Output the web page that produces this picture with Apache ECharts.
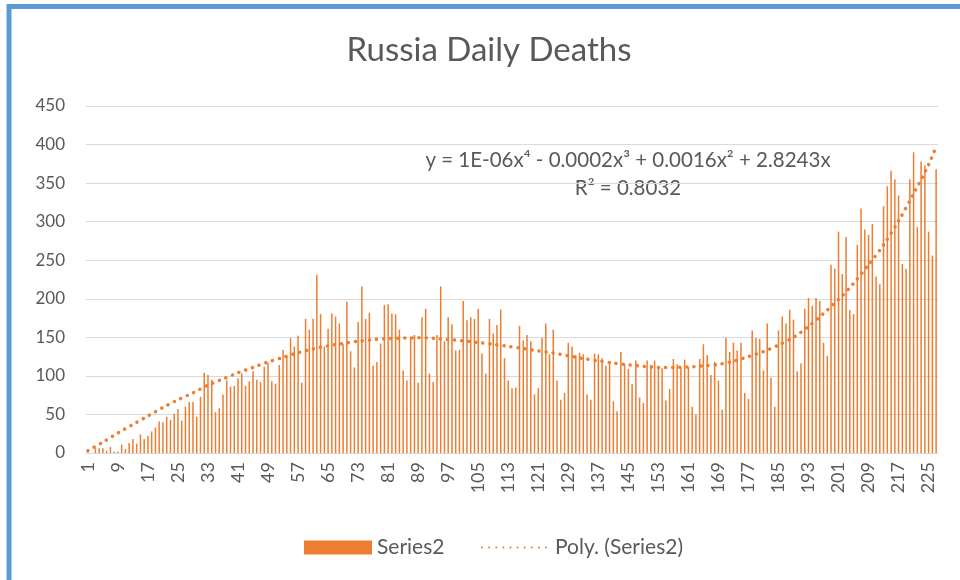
<!DOCTYPE html>
<html>
<head>
<meta charset="utf-8">
<script src="https://cdn.jsdelivr.net/npm/echarts@6/dist/echarts.min.js"></script>
<style>
  html, body { margin: 0; padding: 0; background: #fff; }
  #chart { width: 960px; height: 580px; }
</style>
</head>
<body>
<div id="chart"></div>
<script>
// daily deaths, day 1..227
const deaths = [
  1, 0, 6, 6, 6, 3, 8, 2, 2, 11, 5, 13, 18, 12, 24, 18, 22, 28, 33, 41,
  40, 47, 43, 51, 57, 42, 60, 66, 66, 47, 73, 104, 101, 95, 53, 58, 76, 94, 86,
  87, 97, 103, 87, 93, 106, 95, 92, 112, 117, 93, 90, 114, 134, 126, 149, 138, 152, 91, 174,
  160, 174, 231, 180, 138, 161, 181, 177, 168, 141, 196, 132, 111, 170, 216, 174, 182, 113,
  118, 142, 192, 193, 181, 180, 160, 107, 94, 151, 153, 91, 176, 187, 103, 92, 153, 216, 145,
  176, 167, 133, 134, 197, 172, 176, 174, 187, 129, 103, 174, 155, 166, 186, 123, 94, 84, 85, 165,
  146, 153, 145, 76, 84, 149, 168, 128, 160, 94, 69, 78, 143, 138, 127, 130, 128, 76, 69,
  129, 128, 123, 113, 118, 67, 54, 131, 115, 109, 89, 120, 72, 65, 120, 114, 120, 109, 110,
  68, 83, 122, 115, 111, 121, 111, 60, 50, 122, 141, 127, 101, 118, 94, 56, 149, 131, 143, 133,
  143, 78, 70, 159, 149, 148, 107, 168, 98, 60, 159, 177, 168, 186, 173, 106, 116, 187, 201,
  191, 201, 197, 143, 126, 244, 239, 287, 232, 280, 185, 180, 270, 317, 290, 283, 297, 229, 219,
  320, 346, 366, 355, 334, 245, 239, 355, 390, 293, 378, 373, 287, 256, 368
];
const days = deaths.map((d, i) => String(i + 1));

// trendline (day, value)
const trendDays = [1, 5, 9, 13, 17, 21, 25, 29, 33, 37, 41, 45, 49, 53, 57, 61, 65, 69, 73, 77,
  81, 85, 89, 93, 97, 101, 105, 109, 113, 117, 121, 125, 129, 133, 137, 141, 145, 149, 153, 157,
  161, 165, 169, 173, 177, 181, 185, 189, 193, 197, 201, 205, 209, 213, 217, 221, 225, 227];
const trendVals = [3, 14, 26, 37, 48, 59, 69, 78, 88, 96, 104, 111, 118, 124, 130, 135, 139, 142, 145, 147,
  148.5, 149, 149.4, 148.7, 147, 145.5, 143.3, 141, 138.3, 135.5, 132.3, 129.5, 126, 122.5, 119.5, 116.7, 114.3, 112.3, 111, 111,
  111.5, 113, 115, 119, 125, 131.5, 140, 150, 164, 181, 199, 220, 244, 270, 301, 336, 374, 397];

const yTicks = { min: 0, max: 450, interval: 50 };
const equation = 'y = 1E-06x⁴ - 0.0002x³ + 0.0016x² + 2.8243x';
const rSquared = 'R² = 0.8032';

const font = 'Lato, "Open Sans", sans-serif';
const txt = '#595959';
const orange = '#ED7D31';

let chart = echarts.init(document.getElementById('chart'), null, { renderer: 'canvas' });
let option = {
  animation: false,
  backgroundColor: '#fff',
  textStyle: { fontFamily: font },
  grid: { left: 86, right: 22, top: 106, bottom: 127 },
  xAxis: [
    {
      type: 'category',
      data: days,
      boundaryGap: true,
      axisLine: { show: true, lineStyle: { color: '#D9D9D9', width: 1 } },
      axisTick: { show: false },
      axisLabel: { interval: 7, rotate: 90, margin: 9, color: txt, fontSize: 18, fontFamily: font }
    },
    {
      type: 'value', min: 0.5, max: 227.5, show: false
    }
  ],
  yAxis: {
    type: 'value',
    min: yTicks.min, max: yTicks.max, interval: yTicks.interval,
    axisLine: { show: false },
    axisTick: { show: false },
    axisLabel: { color: txt, fontSize: 17, margin: 21, fontFamily: font },
    splitLine: { lineStyle: { color: '#D9D9D9', width: 1 } }
  },
  legend: [
    {
      data: [{ name: 'Series2', icon: 'rect' }],
      left: 299, top: 532, itemWidth: 68, itemHeight: 14, itemGap: 6,
      textStyle: { color: txt, fontSize: 21, fontFamily: font }
    },
    {
      data: [{ name: 'Poly. (Series2)', itemStyle: { opacity: 0 } }],
      left: 476, top: 532, itemWidth: 68, itemHeight: 14,
      textStyle: { color: txt, fontSize: 21, fontFamily: font }
    }
  ],
  series: [
    {
      name: 'Series2',
      type: 'bar',
      data: deaths,
      barWidth: 1.5,
      itemStyle: { color: orange }
    },
    {
      name: 'Poly. (Series2)',
      type: 'line',
      xAxisIndex: 1,
      data: trendDays.map((d, i) => [d, trendVals[i]]),
      smooth: 0.3,
      symbol: 'none',
      z: 5,
      itemStyle: { color: orange },
      lineStyle: { color: orange, width: 3.5, type: [0.1, 7], cap: 'round' }
    }
  ],
  graphic: [
    // outer blue frame
    {
      type: 'rect', silent: true,
      shape: { x: 9, y: 6.5, width: 1000, height: 1000 },
      style: { fill: null, stroke: '#5B9BD5', lineWidth: 5 }
    },
    {
      type: 'text', x: 489, y: 50,
      style: { text: 'Russia Daily Deaths', fill: txt, font: '33px ' + font, textAlign: 'center', textVerticalAlign: 'middle' }
    },
    {
      type: 'text', x: 628, y: 160,
      style: { text: equation, fill: txt, font: '20.5px ' + font, textAlign: 'center', textVerticalAlign: 'middle' }
    },
    {
      type: 'text', x: 628, y: 188,
      style: { text: rSquared, fill: txt, font: '20.5px ' + font, textAlign: 'center', textVerticalAlign: 'middle' }
    }
  ]
};
chart.setOption(option);
</script>
</body>
</html>
